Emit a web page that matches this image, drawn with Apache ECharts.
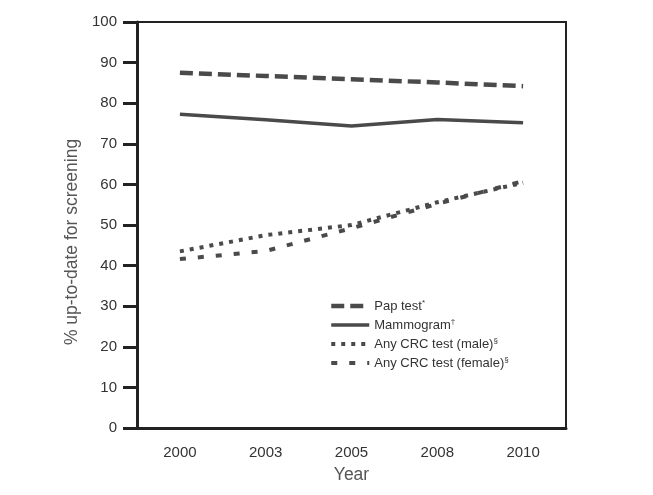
<!DOCTYPE html>
<html><head><meta charset="utf-8">
<script src="https://cdn.jsdelivr.net/npm/echarts@6/dist/echarts.min.js"></script>
<style>html,body{margin:0;padding:0;background:#fff}#c{width:653px;height:495px}</style>
</head><body><div id="c"></div>
<script>
const years = ['2000','2003','2005','2008','2010'];
const papTest = [87.5, 86.7, 85.9, 85.1, 84.2];
const mammogram = [77.3, 75.9, 74.4, 76.0, 75.2];
const crcMale = [43.5, 47.5, 50.0, 55.6, 60.4];
const crcFemale = [41.6, 43.6, 49.2, 55.2, 60.8];
const seriesNames = ['Pap test*', 'Mammogram†', 'Any CRC test (male)§', 'Any CRC test (female)§'];
const yTicks = [0,10,20,30,40,50,60,70,80,90,100];

const lineColor = '#4a4a4a';
const font = 'Liberation Sans, Arial, sans-serif';
const widths = [4.5, 3.5, 4, 4];
const dashes = [[13,6], 'solid', [4,6], [6,12]];
function mk(i, data) {
  return {name: seriesNames[i], type:'line', data, symbol:'none', showSymbol:false, smooth:false,
    lineStyle:{color:lineColor, width:widths[i], type:dashes[i], cap:'butt'},
    itemStyle:{color:lineColor}};
}
const chart = echarts.init(document.getElementById('c'));
chart.setOption({
  animation:false,
  grid:{left:137, right:87, top:22, bottom:67, show:true, borderColor:'#222', borderWidth:2},
  legend:{
    orient:'vertical', left:324, top:294, itemWidth:38, itemHeight:14, itemGap:5.5,
    itemTextGap:8,
    itemStyle:{color:'transparent', borderColor:'transparent', borderWidth:0, opacity:0},
    textStyle:{fontFamily:font, fontSize:13, color:'#333',
      rich:{sup:{fontSize:8, fontFamily:font, color:'#333', padding:[0,0,6,0]}, t:{fontFamily:font, fontSize:13, color:'#333'}}},
    formatter:function(n){
      const last = n.slice(-1);
      if ('*†§'.indexOf(last) >= 0) return '{t|' + n.slice(0,-1) + '}{sup|' + last + '}';
      return n;
    },
    data: seriesNames.map((n,i)=>({name:n, lineStyle:{width:widths[i], type:dashes[i], color:lineColor, cap:'butt'}}))
  },
  xAxis:{type:'category', data:years, boundaryGap:true,
    axisLine:{lineStyle:{color:'#222', width:3}},
    axisTick:{alignWithLabel:true, length:11, lineStyle:{color:'#222', width:3}},
    axisLabel:{margin:17, fontFamily:font, fontSize:15, color:'#333'},
    name:'Year', nameLocation:'middle', nameGap:38,
    nameTextStyle:{fontFamily:font, fontSize:17.5, color:'#555'}
  },
  yAxis:{type:'value', min:0, max:100, interval:10,
    axisLine:{show:true, lineStyle:{color:'#222', width:3}},
    axisTick:{show:true, length:14, lineStyle:{color:'#222', width:3}},
    splitLine:{show:false},
    axisLabel:{margin:20, fontFamily:font, fontSize:15, color:'#333',
      formatter:function(v){ return yTicks.indexOf(v)>=0 ? String(v) : ''; }},
    name:'% up-to-date for screening', nameLocation:'middle', nameGap:53, nameRotate:90,
    nameTextStyle:{fontFamily:font, fontSize:17.5, color:'#555', padding:[0,34,0,0]}
  },
  series:[
    mk(0, papTest),
    mk(1, mammogram),
    mk(2, crcMale),
    mk(3, crcFemale)
  ]
});
</script></body></html>
